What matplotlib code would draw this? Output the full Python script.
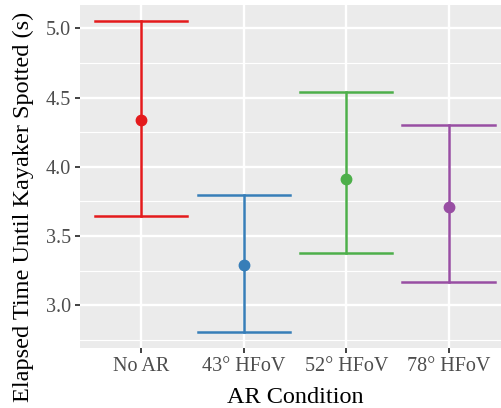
import numpy as np
from matplotlib import pyplot as plt

conditions = ["No AR", "43° HFoV", "52° HFoV", "78° HFoV"]
means = [4.335, 3.295, 3.915, 3.712]
lower = [3.648, 2.805, 3.378, 3.168]
upper = [5.055, 3.798, 4.537, 4.300]
colors = ["#E41A1C", "#377EB8", "#4DAF4A", "#984EA3"]

plt.rcParams['font.family'] = ['Liberation Serif', 'DejaVu Serif']

fig = plt.figure(figsize=(5.02, 4.08), dpi=100)
ax = fig.add_axes([80 / 502, 60 / 408, 430 / 502, 343 / 408])
ax.set_facecolor("#EBEBEB")

x = np.arange(1, len(conditions) + 1)
for i in range(len(conditions)):
    ax.plot([x[i], x[i]], [lower[i], upper[i]], color=colors[i], lw=1.8, zorder=3)
    ax.plot([x[i] - 0.45, x[i] + 0.45], [lower[i], lower[i]], color=colors[i], lw=1.8, zorder=3)
    ax.plot([x[i] - 0.45, x[i] + 0.45], [upper[i], upper[i]], color=colors[i], lw=1.8, zorder=3)
    ax.plot(x[i], means[i], 'o', color=colors[i], markersize=7.5, zorder=4)

ax.set_xlim(0.4, 4.6)
ymin, ymax = min(lower), max(upper)
pad = (ymax - ymin) * 0.05
ax.set_ylim(ymin - pad, ymax + pad)

ax.set_xticks(x)
ax.set_xticklabels(conditions)
ax.set_yticks([3.0, 3.5, 4.0, 4.5, 5.0])
ax.set_yticks([2.75, 3.25, 3.75, 4.25, 4.75], minor=True)
ax.set_xticks([], minor=True)

ax.grid(which='major', color='white', lw=1.7)
ax.grid(which='minor', color='white', lw=0.85)
ax.set_axisbelow(True)
for s in ax.spines.values():
    s.set_visible(False)

ax.tick_params(which='major', length=3.5, width=1.3, color='#333333',
               labelsize=14.5, labelcolor='#4D4D4D', pad=3)
ax.tick_params(which='minor', length=0)

ax.set_xlabel("AR Condition", fontsize=17.5, labelpad=8)
ax.set_ylabel("Elapsed Time Until Kayaker Spotted (s)", fontsize=17.5)
ax.yaxis.set_label_coords(-0.107, 0.411)

fig.savefig("out.png", dpi=100)
